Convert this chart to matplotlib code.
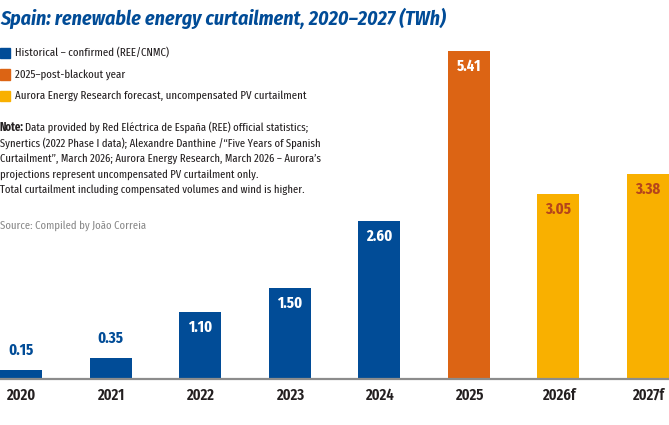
import matplotlib
matplotlib.use("Agg")
import matplotlib.pyplot as plt
from matplotlib.font_manager import fontManager

years = ["2020", "2021", "2022", "2023", "2024", "2025", "2026f", "2027f"]
values = [0.15, 0.35, 1.10, 1.50, 2.60, 5.41, 3.05, 3.38]
groups = ["hist", "hist", "hist", "hist", "hist", "blackout", "forecast", "forecast"]

legend_labels = [
    ("hist", "Historical \u2013 confirmed (REE/CNMC)"),
    ("blackout", "2025\u2013post-blackout year"),
    ("forecast", "Aurora Energy Research forecast, uncompensated PV curtailment"),
]
title = "Spain: renewable energy curtailment, 2020\u20132027 (TWh)"
note_lines = [
    "Data provided by Red El\u00e9ctrica de Espa\u00f1a (REE) official statistics;",
    "Synertics (2022 Phase I data); Alexandre Danthine /\u201cFive Years of Spanish",
    "Curtailment\u201d, March 2026; Aurora Energy Research, March 2026 \u2013 Aurora\u2019s",
    "projections represent uncompensated PV curtailment only.",
    "Total curtailment including compensated volumes and wind is higher.",
]
source = "Source: Compiled by Jo\u00e3o Correia"

colors = {"hist": "#014C97", "blackout": "#DC6414", "forecast": "#F9B000"}
label_colors = {"hist": "white", "blackout": "white", "forecast": "#B5451B"}
BLUE = "#014C97"
DARK = "#231F20"

# narrow humanist faces if present, else DejaVu's condensed cut
names = {f.name for f in fontManager.ttflist}


def pick(cands):
    for c in cands:
        if c in names:
            return [c, "DejaVu Sans"]
    return ["DejaVu Sans"]


body_font = pick(["Fira Sans Extra Condensed", "Fira Sans Condensed"])
title_font = pick(["Fira Sans Condensed", "Fira Sans Extra Condensed"])
plt.rcParams["font.family"] = body_font
plt.rcParams["font.stretch"] = "condensed"

W, H = 669, 425
fig = plt.figure(figsize=(W / 100, H / 100), dpi=100)


def px(x, y):
    return x / W, 1 - y / H


base_px = 379
ppu = 60.7
ymax = 6.0
ax = fig.add_axes([0, (H - base_px) / H, 1, ymax * ppu / H])
bw = 0.47
xs = list(range(len(years)))
ax.bar(xs, values, width=bw, color=[colors[g] for g in groups], zorder=2)
ax.set_xlim(-bw / 2, len(years) - 1 + bw / 2)
ax.set_ylim(0, ymax)
ax.axhline(0, color="#8c8c8c", lw=1.6, zorder=3, clip_on=False)
for s in ax.spines.values():
    s.set_visible(False)
ax.set_yticks([])
ax.set_xticks(xs)
ax.set_xticklabels(years, fontsize=11.5, fontweight="semibold", color=DARK)
ax.tick_params(axis="x", length=0, pad=6)

for x, v, g in zip(xs, values, groups):
    if v < 0.5:
        ax.annotate(f"{v:.2f}", (x, v), xytext=(0, 8), textcoords="offset points",
                    ha="center", va="bottom", fontsize=11.5, fontweight="bold", color=BLUE)
    else:
        ax.annotate(f"{v:.2f}", (x, v), xytext=(0, -11), textcoords="offset points",
                    ha="center", va="center", fontsize=11.5, fontweight="bold",
                    color=label_colors[g])

fig.text(*px(0, 18), title, fontsize=14.3, fontweight="bold", fontstyle="italic",
         family=title_font, color=BLUE, va="center", ha="left")

for i, (g, lab) in enumerate(legend_labels):
    cy = 53 + i * 21.5
    fig.patches.append(plt.Rectangle(px(0, cy + 5), 10 / W, 10 / H,
                                     transform=fig.transFigure, color=colors[g]))
    fig.text(*px(15, cy), lab, fontsize=8.5, color=DARK, va="center", ha="left")

renderer = fig.canvas.get_renderer()
t = fig.text(*px(0, 127), "Note:", fontsize=8.4, fontweight="bold", color=DARK,
             va="center", ha="left")
nw = t.get_window_extent(renderer).width
for i, line in enumerate(note_lines):
    x0 = nw + 1 if i == 0 else 0
    fig.text(*px(x0, 127 + i * 15.7), line, fontsize=8.3, color=DARK,
             va="center", ha="left")

fig.text(*px(0, 226), source, fontsize=8.4, color="#8a8a8a", va="center", ha="left")

fig.savefig("out.png", dpi=100)
